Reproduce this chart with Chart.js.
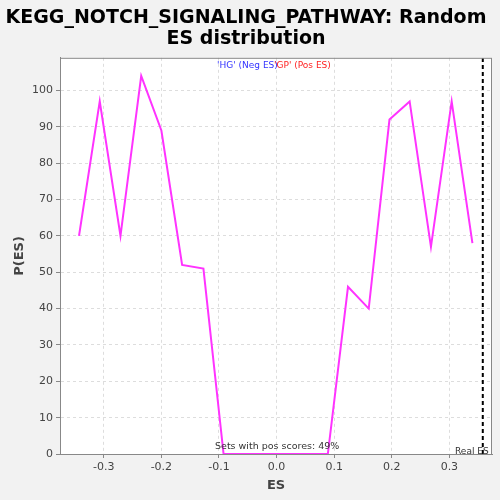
<!DOCTYPE html>
<html>
<head>
<meta charset="utf-8">
<script src="https://cdn.jsdelivr.net/npm/chart.js@4/dist/chart.umd.min.js"></script>
<style>
    html, body { margin: 0; padding: 0; background: #f2f2f2; }
    #wrap { width: 500px; height: 500px; }
</style>
</head>
<body>
<div id="wrap"><canvas id="grafico" width="500" height="500"></canvas></div>
<script>
// valores
const esValores = [-0.343, -0.307, -0.271, -0.235, -0.200, -0.164, -0.127, -0.092, -0.056, -0.020, 0.018, 0.054, 0.089, 0.124, 0.160, 0.196, 0.231, 0.268, 0.304, 0.340];
const pValores = [60, 97, 60, 104, 89, 52, 51, 0, 0, 0, 0, 0, 0, 46, 40, 92, 97, 57, 97, 58];
const realES = 0.358;
const xTicks = [-0.3, -0.2, -0.1, 0.0, 0.1, 0.2, 0.3];
const yTicks = [0, 10, 20, 30, 40, 50, 60, 70, 80, 90, 100];
const tituloLinhas = ['KEGG_NOTCH_SIGNALING_PATHWAY: Random', 'ES distribution'];

const fonte = '"DejaVu Sans", sans-serif';

// fundo branco, moldura e textos dentro da area
const extras = {
    id: 'extras',
    beforeDraw(chart) {
        const { ctx, chartArea: a } = chart;
        ctx.save();
        ctx.fillStyle = '#ffffff';
        ctx.fillRect(a.left, a.top, a.right - a.left, a.bottom - a.top);
        ctx.restore();
    },
    afterDraw(chart) {
        const { ctx, chartArea: a } = chart;
        ctx.save();
        ctx.strokeStyle = '#888888';
        ctx.lineWidth = 1;
        ctx.strokeRect(a.left + 0.5, a.top + 0.5, a.right - a.left - 1, a.bottom - a.top);

        ctx.beginPath();
        ctx.rect(a.left, a.top, a.right - a.left, a.bottom - a.top);
        ctx.clip();
        ctx.font = '9px ' + fonte;
        ctx.textBaseline = 'middle';
        ctx.fillStyle = '#3333ff';
        ctx.fillText("'HG' (Neg ES)", 217, 66);
        ctx.fillStyle = '#ff2222';
        ctx.fillText("'GP' (Pos ES)", 274, 66);
        ctx.fillStyle = '#333333';
        ctx.font = '9.5px ' + fonte;
        ctx.fillText('Sets with pos scores: 49%', 215, 447);
        ctx.font = '9px ' + fonte;
        ctx.fillText('Real ES (' + realES.toFixed(3) + ')', 455, 452);
        ctx.restore();
    }
};

const ctx = document.getElementById('grafico').getContext('2d');
new Chart(ctx, {
    type: 'line',
    data: {
        datasets: [{
            data: esValores.map((x, i) => ({ x: x, y: pValores[i] })),
            borderColor: '#ff33ff',
            borderWidth: 2,
            pointRadius: 0,
            tension: 0
        }, {
            data: [{ x: realES, y: 0 }, { x: realES, y: 110 }],
            borderColor: '#000000',
            borderWidth: 2,
            borderDash: [4, 3],
            pointRadius: 0
        }]
    },
    options: {
        responsive: false,
        animation: false,
        layout: { padding: { left: 0, right: 8, top: 0, bottom: 0 } },
        plugins: {
            legend: { display: false },
            tooltip: { enabled: false },
            title: {
                display: true,
                text: tituloLinhas,
                color: '#000000',
                font: { family: fonte, size: 19, weight: 'bold', lineHeight: 1.1 },
                padding: { top: 8, bottom: 8 }
            }
        },
        scales: {
            x: {
                type: 'linear',
                min: -0.376,
                max: 0.374,
                afterBuildTicks: (s) => { s.ticks = xTicks.map(v => ({ value: v })); },
                afterFit: (s) => { s.height = 46; },
                ticks: {
                    callback: (v) => v.toFixed(1),
                    color: '#444444',
                    font: { family: fonte, size: 11 },
                    padding: 3,
                    maxRotation: 0
                },
                grid: { color: '#dddddd', tickLength: 4, tickColor: '#888888' },
                border: { color: '#888888', dash: [3, 3] },
                title: {
                    display: true,
                    text: 'ES',
                    color: '#444444',
                    font: { family: fonte, size: 13, weight: 'bold' },
                    padding: { top: 0, bottom: 7 }
                }
            },
            y: {
                min: 0,
                max: 109,
                afterBuildTicks: (s) => { s.ticks = yTicks.map(v => ({ value: v })); },
                afterFit: (s) => { s.width = 60; },
                ticks: {
                    color: '#444444',
                    font: { family: fonte, size: 11 },
                    padding: 3
                },
                grid: { color: '#dddddd', tickLength: 4, tickColor: '#888888' },
                border: { color: '#888888', dash: [3, 3] },
                title: {
                    display: true,
                    text: 'P(ES)',
                    color: '#444444',
                    font: { family: fonte, size: 13, weight: 'bold' },
                    padding: { top: 12, bottom: 0 }
                }
            }
        }
    },
    plugins: [extras]
});
</script>
</body>
</html>
